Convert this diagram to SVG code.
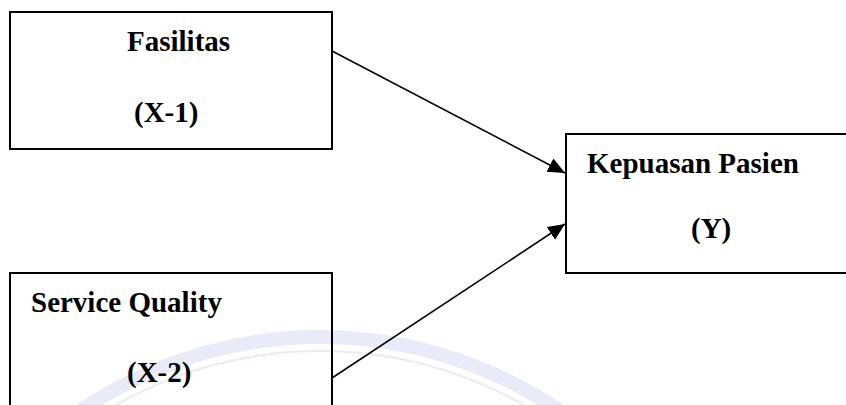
<svg xmlns="http://www.w3.org/2000/svg" width="846" height="405" viewBox="0 0 846 405">
<style>
.box{fill:none;stroke:#000;stroke-width:2}
.lbl{font-family:"Liberation Serif","Times New Roman",serif;font-weight:bold;font-size:29px;fill:#000}
.edge{stroke:#000;stroke-width:1.6;fill:none}
.wm{fill:none;stroke:#e9ebf8}
</style>
<defs>
<marker id="arr" markerUnits="userSpaceOnUse" markerWidth="19" markerHeight="16" refX="17" refY="7.5" orient="auto">
<path d="M0,0 L17,7.5 L0,15 Z" fill="#000"/>
</marker>
</defs>
<rect width="846" height="405" fill="#fff"/>
<g id="watermark">
<circle class="wm" cx="320" cy="763" r="426" stroke-width="14"/>
<circle class="wm" cx="320" cy="763" r="412" stroke-width="2"/>
</g>
<g id="connectors">
<line class="edge" x1="332" y1="51" x2="565" y2="173" marker-end="url(#arr)"/>
<line class="edge" x1="332" y1="378" x2="565" y2="224" marker-end="url(#arr)"/>
</g>
<g id="node-fasilitas">
<rect class="box" x="10" y="12" width="322" height="137"/>
<text class="lbl" x="127" y="51">Fasilitas</text>
<text class="lbl" x="134" y="122">(X-1)</text>
</g>
<g id="node-kepuasan">
<rect class="box" x="566" y="134" width="284" height="139"/>
<text class="lbl" x="587" y="173">Kepuasan Pasien</text>
<text class="lbl" x="691" y="238">(Y)</text>
</g>
<g id="node-service">
<rect class="box" x="10" y="273" width="322" height="140"/>
<text class="lbl" x="31" y="312">Service Quality</text>
<text class="lbl" x="127" y="382">(X-2)</text>
</g>
</svg>
